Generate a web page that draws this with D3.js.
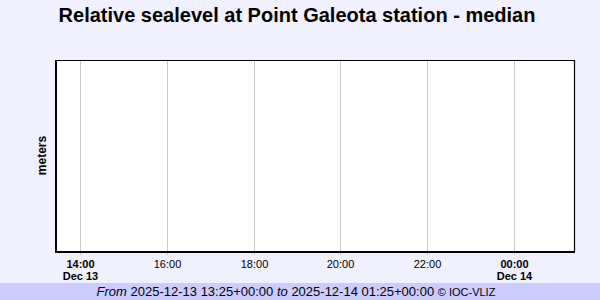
<!DOCTYPE html>
<html>
<head>
<meta charset="utf-8">
<script src="https://cdn.jsdelivr.net/npm/d3@7"></script>
<style>
  body { margin: 0; background: #f0f0ff; }
  svg { display: block; font-family: "Liberation Sans", Arial, sans-serif; }
</style>
</head>
<body>
<svg id="chart" width="600" height="300"></svg>
<script>
// Data
var title = "Relative sealevel at Point Galeota station - median";
var yLabel = "meters";
var timeStart = "2025-12-13T13:25:00Z",
    timeEnd = "2025-12-14T01:25:00Z";
var tickTimes = ["2025-12-13T14:00:00Z", "2025-12-13T16:00:00Z", "2025-12-13T18:00:00Z",
                 "2025-12-13T20:00:00Z", "2025-12-13T22:00:00Z", "2025-12-14T00:00:00Z"];
var tickLabels = ["14:00", "16:00", "18:00", "20:00", "22:00", "00:00"];
var dateLabels = ["Dec 13", "", "", "", "", "Dec 14"];
var sealevel = []; // no values in this window

var svg = d3.select("#chart"),
    width = +svg.attr("width"),
    height = +svg.attr("height");

var margin = { top: 60, right: 25, bottom: 49, left: 55 };

var x = d3.scaleUtc()
    .domain([new Date(timeStart), new Date(timeEnd)])
    .range([margin.left, width - margin.right]);

var y = d3.scaleLinear()
    .domain([0, 1])
    .range([height - margin.bottom, margin.top]);

// footer band
svg.append("rect")
    .attr("x", 0).attr("y", 283)
    .attr("width", width).attr("height", height - 283)
    .attr("fill", "#ccccff");

// title
svg.append("text")
    .attr("x", 297)
    .attr("y", 22)
    .attr("text-anchor", "middle")
    .style("font-size", "20px")
    .style("font-weight", "bold")
    .text(title);

// plot area
svg.append("rect")
    .attr("x", margin.left).attr("y", margin.top)
    .attr("width", width - margin.left - margin.right)
    .attr("height", height - margin.top - margin.bottom)
    .attr("fill", "white");

// grid
svg.append("g")
    .selectAll("line")
    .data(tickTimes)
    .enter()
    .append("line")
    .attr("x1", function (d) { return Math.round(x(new Date(d))) + 0.5; })
    .attr("x2", function (d) { return Math.round(x(new Date(d))) + 0.5; })
    .attr("y1", margin.top)
    .attr("y2", height - margin.bottom + 4)
    .attr("stroke", "#c8c8c8");

// border: thin top/right, thicker left/bottom
var x0 = margin.left, x1 = width - margin.right,
    y0 = margin.top, y1 = height - margin.bottom;
svg.append("path")
    .attr("d", "M" + x0 + "," + (y0 + 0.5) + "H" + (x1 - 0.5) + "V" + y1)
    .attr("fill", "none").attr("stroke", "black").attr("stroke-width", 1.2);
svg.append("path")
    .attr("d", "M" + (x0 + 1) + "," + y0 + "V" + (y1 + 1) + "H" + x1)
    .attr("fill", "none").attr("stroke", "black").attr("stroke-width", 2);

// line (empty)
svg.append("path")
    .datum(sealevel)
    .attr("fill", "none")
    .attr("stroke", "blue")
    .attr("d", d3.line()
        .x(function (d) { return x(new Date(d[0])); })
        .y(function (d) { return y(d[1]); }));

// tick labels
var ticks = svg.append("g")
    .selectAll("g")
    .data(tickTimes)
    .enter()
    .append("g")
    .attr("transform", function (d) { return "translate(" + (Math.round(x(new Date(d))) + 0.5) + ",0)"; });

ticks.append("text")
    .attr("y", 268)
    .attr("text-anchor", "middle")
    .style("font-size", "11px")
    .style("font-weight", function (d, i) { return dateLabels[i] ? "bold" : "normal"; })
    .text(function (d, i) { return tickLabels[i]; });

ticks.append("text")
    .attr("y", 280)
    .attr("text-anchor", "middle")
    .style("font-size", "11px")
    .style("font-weight", "bold")
    .text(function (d, i) { return dateLabels[i]; });

// y label
svg.append("text")
    .attr("transform", "translate(46," + ((y0 + y1) / 2) + ") rotate(-90)")
    .attr("text-anchor", "middle")
    .style("font-size", "12px")
    .style("font-weight", "bold")
    .text(yLabel);

// footer
var foot = svg.append("text")
    .attr("x", 296)
    .attr("y", 296)
    .attr("text-anchor", "middle")
    .style("font-size", "13px");
foot.append("tspan").style("font-style", "italic").text("From ");
foot.append("tspan").text("2025-12-13 13:25+00:00 ");
foot.append("tspan").style("font-style", "italic").text("to ");
foot.append("tspan").text("2025-12-14 01:25+00:00 ");
foot.append("tspan").style("font-size", "11px").text("© IOC-VLIZ");
</script>
</body>
</html>
